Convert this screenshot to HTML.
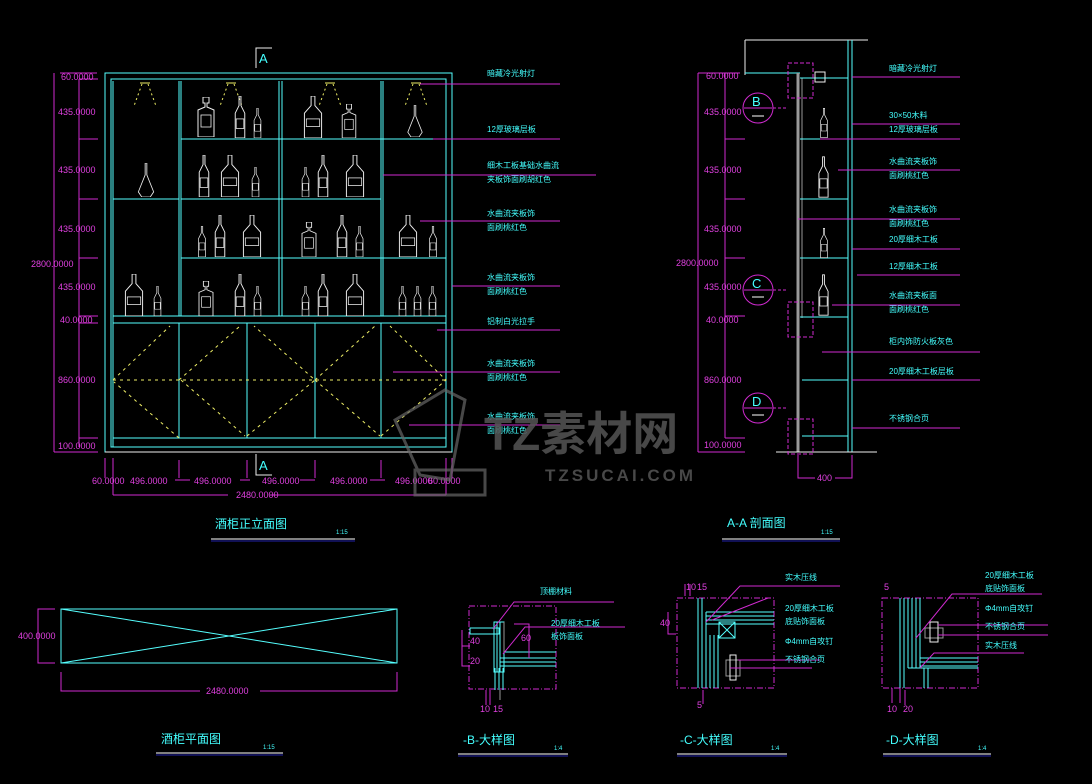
<!DOCTYPE html>
<html><head><meta charset="utf-8"><style>
html,body{margin:0;padding:0;background:#000;}
svg{display:block;}
text{font-family:"Liberation Sans","Noto Sans CJK SC",sans-serif;}
.c{stroke:#5ff;fill:none;stroke-width:1}
.m{stroke:#d02ad0;fill:none;stroke-width:1}
.w{stroke:#eee;fill:none;stroke-width:1}
.y{stroke:#ee6;fill:none;stroke-width:1;stroke-dasharray:3 4}
.g{stroke:#999;fill:none;stroke-width:1}
.tm{fill:#e040e0;font-size:9px}
.tc{fill:#4ff;font-size:8px}
</style></head><body>
<svg width="1092" height="784" viewBox="0 0 1092 784" xmlns="http://www.w3.org/2000/svg">
<defs>
<symbol id="b1" viewBox="0 0 12 44"><path d="M5 0h2v10l4 8v26H1V18l4-8z" fill="none" stroke="#eee" stroke-width="1"/><rect x="2" y="24" width="8" height="10" fill="none" stroke="#eee" stroke-width=".8"/></symbol>
<symbol id="b2" viewBox="0 0 20 44"><path d="M8 0h4v10l7 8v26H1V18l7-8z" fill="none" stroke="#eee" stroke-width="1"/><rect x="3" y="24" width="14" height="8" fill="none" stroke="#eee" stroke-width=".8"/></symbol>
<symbol id="b3" viewBox="0 0 20 40"><path d="M7 0h6v6h-2v4l7 3v27H2V13l7-3V6H7z" fill="none" stroke="#eee" stroke-width="1"/><rect x="5" y="18" width="10" height="12" fill="none" stroke="#eee" stroke-width=".8"/></symbol>
<symbol id="b4" viewBox="0 0 20 40"><path d="M9 0h2v14l8 20-4 6H5l-4-6 8-20z" fill="none" stroke="#eee" stroke-width="1"/></symbol>
</defs>

<!-- ===== Front elevation ===== -->
<g>
<rect x="105" y="73" width="347" height="379" class="c"/>
<rect x="111" y="79" width="335" height="368" class="c"/>
<line x1="113" y1="81" x2="113" y2="447" class="c"/>
<line x1="179" y1="81" x2="179" y2="316" class="c"/>
<line x1="181" y1="81" x2="181" y2="316" class="c"/>
<line x1="279" y1="81" x2="279" y2="316" class="c"/>
<line x1="282" y1="81" x2="282" y2="316" class="c"/>
<line x1="381" y1="81" x2="381" y2="316" class="c"/>
<line x1="383" y1="81" x2="383" y2="316" class="c"/>
<line x1="181" y1="139" x2="446" y2="139" class="c" stroke-width="2"/>
<line x1="181" y1="199" x2="381" y2="199" class="c" stroke-width="2"/>
<line x1="113" y1="199" x2="179" y2="199" class="c" stroke-width="2"/>
<line x1="181" y1="258" x2="446" y2="258" class="c" stroke-width="2"/>
<line x1="113" y1="316" x2="446" y2="316" class="c"/>
<line x1="113" y1="323" x2="446" y2="323" class="c"/>
<line x1="113" y1="438" x2="446" y2="438" class="c"/>
<line x1="179" y1="323" x2="179" y2="438" class="c"/>
<line x1="247" y1="323" x2="247" y2="438" class="c"/>
<line x1="315" y1="323" x2="315" y2="438" class="c"/>
<line x1="381" y1="323" x2="381" y2="438" class="c"/>
<line x1="105" y1="452" x2="452" y2="452" class="w"/>
<!-- door dashed -->
<path d="M113 380L170 326M179 438L114 382M179 380L240 326M181 380L245 436M247 436L315 380L254 326M315 380L375 326M315 380L380 436M381 436L446 380L390 326" class="y"/>
<line x1="113" y1="380" x2="446" y2="380" class="y" stroke-width="1.5"/>
<!-- lights -->
<g stroke="#ee6" fill="none" stroke-dasharray="2 3">
<path d="M142 84l-8 22M148 84l8 22M228 84l-8 22M234 84l8 22M327 84l-8 22M333 84l8 22M413 84l-8 22M419 84l8 22"/>
</g>
<g stroke="#ee6" fill="none"><path d="M140 83h10M226 83h10M325 83h10M411 83h10"/></g>
<!-- bottles -->
<use href="#b3" x="196" y="97" width="20" height="40"/><use href="#b1" x="234" y="96" width="12" height="42"/><use href="#b1" x="253" y="108" width="9" height="30"/>
<use href="#b2" x="303" y="96" width="20" height="42"/><use href="#b3" x="339" y="104" width="20" height="34"/><use href="#b4" x="405" y="105" width="20" height="32"/>
<use href="#b4" x="136" y="163" width="20" height="34"/>
<use href="#b1" x="198" y="155" width="12" height="42"/><use href="#b2" x="220" y="155" width="20" height="42"/><use href="#b1" x="251" y="167" width="9" height="30"/>
<use href="#b1" x="301" y="167" width="9" height="30"/><use href="#b1" x="317" y="155" width="12" height="42"/><use href="#b2" x="345" y="155" width="20" height="42"/>
<use href="#b1" x="197" y="226" width="10" height="31"/><use href="#b1" x="214" y="215" width="12" height="42"/><use href="#b2" x="242" y="215" width="20" height="42"/>
<use href="#b3" x="299" y="222" width="20" height="35"/><use href="#b1" x="336" y="215" width="12" height="42"/><use href="#b1" x="355" y="226" width="9" height="31"/>
<use href="#b2" x="398" y="215" width="20" height="42"/><use href="#b1" x="428" y="226" width="10" height="31"/>
<use href="#b2" x="124" y="274" width="20" height="42"/><use href="#b1" x="153" y="286" width="9" height="30"/>
<use href="#b3" x="196" y="281" width="20" height="35"/><use href="#b1" x="234" y="274" width="12" height="42"/><use href="#b1" x="253" y="286" width="9" height="30"/>
<use href="#b1" x="301" y="286" width="9" height="30"/><use href="#b1" x="317" y="274" width="12" height="42"/><use href="#b2" x="345" y="274" width="20" height="42"/>
<use href="#b1" x="398" y="286" width="9" height="30"/><use href="#b1" x="413" y="286" width="9" height="30"/><use href="#b1" x="428" y="286" width="9" height="30"/>
<!-- A markers -->
<path d="M256 68V48h16" class="w"/><text x="259" y="63" fill="#4ff" font-size="13">A</text>
<path d="M256 454v21h16" class="w"/><text x="259" y="470" fill="#4ff" font-size="13">A</text>
<!-- left dims -->
<path d="M60 73H97M54 73V452M54 452H98M79 79V447M79 79H98M79 139H98M79 199H98M79 258H98M79 316H98M79 323H98M79 438H98" class="m"/>
<text x="61" y="80" class="tm">60.0000</text>
<text x="58" y="115" class="tm">435.0000</text>
<text x="58" y="173" class="tm">435.0000</text>
<text x="58" y="232" class="tm">435.0000</text>
<text x="31" y="267" class="tm">2800.0000</text>
<text x="58" y="290" class="tm">435.0000</text>
<text x="60" y="323" class="tm">40.0000</text>
<text x="58" y="383" class="tm">860.0000</text>
<text x="58" y="449" class="tm">100.0000</text>
<!-- bottom dims -->
<path d="M105 458V478M113 458V495M179 460V478M247 460V478M315 460V478M381 460V478M452 458V478M446 458V495M113 495H228M270 495H446M175 480H190M240 480H250M300 480H315M370 480H385" class="m"/>
<text x="92" y="484" class="tm">60.0000</text>
<text x="130" y="484" class="tm">496.0000</text>
<text x="194" y="484" class="tm">496.0000</text>
<text x="262" y="484" class="tm">496.0000</text>
<text x="330" y="484" class="tm">496.0000</text>
<text x="395" y="484" class="tm">496.0000</text>
<text x="428" y="484" class="tm">60.0000</text>
<text x="236" y="498" class="tm">2480.0000</text>
<!-- leaders -->
<g class="m"><path d="M420 84H560M433 139H560M383 175H596M420 221H560M452 286H560M437 330H560M393 372H560M409 425H560"/></g>
<g class="tc">
<text x="487" y="76">暗藏冷光射灯</text>
<text x="487" y="132">12厚玻璃层板</text>
<text x="487" y="168">细木工板基础水曲流</text><text x="487" y="182">夹板饰面刷胡红色</text>
<text x="487" y="216">水曲流夹板饰</text><text x="487" y="230">面刷桃红色</text>
<text x="487" y="280">水曲流夹板饰</text><text x="487" y="294">面刷桃红色</text>
<text x="487" y="324">铝制白光拉手</text>
<text x="487" y="366">水曲流夹板饰</text><text x="487" y="380">面刷桃红色</text>
<text x="487" y="419">水曲流夹板饰</text><text x="487" y="433">面刷桃红色</text>
</g>
<text x="215" y="528" fill="#4ff" font-size="12">酒柜正立面图</text>
<text x="336" y="534" fill="#4ff" font-size="6">1:15</text>
<line x1="211" y1="539" x2="355" y2="539" stroke="#fff"/><line x1="211" y1="541" x2="355" y2="541" stroke="#22a"/>
</g>

<!-- ===== Watermark ===== -->
<g fill="#555" opacity="0.85">
<text x="484" y="450" font-size="46" font-weight="bold" font-family="Liberation Sans,Noto Sans CJK SC,sans-serif">TZ素材网</text>
<text x="545" y="481" font-size="17" font-weight="bold" letter-spacing="3">TZSUCAI.COM</text>
</g>
<path d="M395 420l50-30 20 10-15 80-30-5zM415 470h70v25h-70z" stroke="#666" fill="none" stroke-width="3" opacity=".7"/>

<!-- ===== Section A-A ===== -->
<g>
<path d="M745 40H868M745 40V75" class="w"/>
<line x1="745" y1="73" x2="800" y2="73" class="c" stroke-width="2"/>
<line x1="852" y1="40" x2="852" y2="452" class="c"/>
<line x1="848" y1="40" x2="848" y2="452" class="c"/>
<line x1="798" y1="73" x2="798" y2="452" stroke="#999" stroke-width="3"/>
<line x1="802" y1="78" x2="802" y2="318" class="g"/>
<line x1="800" y1="78" x2="848" y2="78" class="c" stroke-width="2"/>
<line x1="800" y1="139" x2="848" y2="139" class="c" stroke-width="2"/>
<line x1="800" y1="199" x2="848" y2="199" class="c" stroke-width="2"/>
<line x1="800" y1="258" x2="848" y2="258" class="c" stroke-width="2"/>
<line x1="800" y1="317" x2="848" y2="317" class="c" stroke-width="2"/>
<line x1="802" y1="380" x2="848" y2="380" class="c" stroke-width="2"/>
<line x1="802" y1="436" x2="848" y2="436" class="c" stroke-width="2"/>
<line x1="776" y1="452" x2="877" y2="452" class="w"/>
<rect x="815" y="72" width="10" height="10" class="w"/>
<use href="#b1" x="820" y="108" width="8" height="30"/><use href="#b1" x="818" y="156" width="11" height="42"/><use href="#b1" x="820" y="228" width="8" height="30"/><use href="#b1" x="818" y="274" width="11" height="42"/>
<rect x="788" y="63" width="25" height="35" class="m" stroke-dasharray="4 2"/>
<rect x="788" y="302" width="25" height="35" class="m" stroke-dasharray="4 2"/>
<rect x="788" y="419" width="25" height="35" class="m" stroke-dasharray="4 2"/>
<circle cx="758" cy="108" r="15" class="m"/><line x1="744" y1="108" x2="772" y2="108" class="m"/><line x1="752" y1="116" x2="764" y2="116" stroke="#fff"/><text x="752" y="106" fill="#4ff" font-size="13">B</text>
<circle cx="758" cy="290" r="15" class="m"/><line x1="744" y1="290" x2="772" y2="290" class="m"/><line x1="752" y1="297" x2="764" y2="297" stroke="#fff"/><text x="752" y="288" fill="#4ff" font-size="13">C</text>
<circle cx="758" cy="408" r="15" class="m"/><line x1="744" y1="408" x2="772" y2="408" class="m"/><line x1="752" y1="415" x2="764" y2="415" stroke="#fff"/><text x="752" y="406" fill="#4ff" font-size="13">D</text>
<path d="M773 108h15M773 290h15M773 408h15" class="m" stroke-dasharray="3 2"/>
<path d="M698 73H740M698 73V452M698 452H745M725 73V438M725 139H745M725 199H745M725 258H745M725 316H745M725 438H745M798 455V478H815M835 478H852V455" class="m"/>
<text x="706" y="79" class="tm">60.0000</text>
<text x="704" y="115" class="tm">435.0000</text>
<text x="704" y="173" class="tm">435.0000</text>
<text x="704" y="232" class="tm">435.0000</text>
<text x="676" y="266" class="tm">2800.0000</text>
<text x="704" y="290" class="tm">435.0000</text>
<text x="706" y="323" class="tm">40.0000</text>
<text x="704" y="383" class="tm">860.0000</text>
<text x="704" y="448" class="tm">100.0000</text>
<text x="817" y="481" class="tm">400</text>
<g class="m"><path d="M852 77H960M852 124H960M820 139H960M838 170H960M798 219H960M852 249H960M857 275H960M832 305H960M822 352H980M852 380H980M852 428H960"/></g>
<g class="tc">
<text x="889" y="71">暗藏冷光射灯</text>
<text x="889" y="118">30×50木料</text><text x="889" y="132">12厚玻璃层板</text>
<text x="889" y="164">水曲流夹板饰</text><text x="889" y="178">面刷桃红色</text>
<text x="889" y="212">水曲流夹板饰</text><text x="889" y="226">面刷桃红色</text><text x="889" y="242">20厚细木工板</text>
<text x="889" y="269">12厚细木工板</text>
<text x="889" y="298">水曲流夹板面</text><text x="889" y="312">面刷桃红色</text>
<text x="889" y="344">柜内饰防火板灰色</text>
<text x="889" y="374">20厚细木工板层板</text>
<text x="889" y="421">不锈钢合页</text>
</g>
<text x="727" y="527" fill="#4ff" font-size="12">A-A 剖面图</text>
<text x="821" y="534" fill="#4ff" font-size="6">1:15</text>
<line x1="722" y1="539" x2="840" y2="539" stroke="#fff"/><line x1="722" y1="541" x2="840" y2="541" stroke="#22a"/>
</g>

<!-- ===== Plan ===== -->
<rect x="61" y="609" width="336" height="54" class="c"/>
<path d="M61 609L397 663M61 663L397 609" class="c"/>
<path d="M55 609H38V663H55M61 672V691H200M260 691H397V672" class="m"/>
<text x="18" y="639" class="tm">400.0000</text>
<text x="206" y="694" class="tm">2480.0000</text>
<text x="161" y="743" fill="#4ff" font-size="12">酒柜平面图</text>
<text x="263" y="749" fill="#4ff" font-size="6">1:15</text>
<line x1="156" y1="753" x2="283" y2="753" stroke="#fff"/><line x1="156" y1="755" x2="283" y2="755" stroke="#22a"/>

<!-- ===== Detail B ===== -->
<g>
<rect x="469" y="606" width="87" height="83" class="m" stroke-dasharray="6 2 1 2"/>
<rect x="470" y="628" width="29" height="6" class="c"/>
<path d="M494 622h10v50h-10zM497 622v50M500 622v50M504 652h52M500 658h56M500 662h56M500 666h56M495 668v22M499 668v22M503 668v22" class="c"/>
<path d="M504 652V622M500 690V700" class="g"/>
<path d="M493 629l21-27h100M503 654l22-27h100M514 624h15v34" class="m"/>
<path d="M462 630v16h8M462 646v20h8M486 690v15M490 690v15" class="m"/>
<text x="470" y="644" class="tm" font-size="8">40</text>
<text x="470" y="664" class="tm" font-size="8">20</text>
<text x="480" y="712" class="tm" font-size="8">10</text><text x="493" y="712" class="tm" font-size="8">15</text>
<text x="521" y="641" class="tm" font-size="8">60</text>
<text x="540" y="594" class="tc">顶棚材料</text>
<text x="551" y="626" class="tc">20厚细木工板</text><text x="551" y="639" class="tc">板饰面板</text>
<text x="463" y="744" fill="#4ff" font-size="12">-B-大样图</text>
<text x="554" y="750" fill="#4ff" font-size="6">1:4</text>
<line x1="458" y1="754" x2="568" y2="754" stroke="#fff"/><line x1="458" y1="756" x2="568" y2="756" stroke="#22a"/>
</g>

<!-- ===== Detail C ===== -->
<g>
<rect x="677" y="598" width="97" height="90" class="m" stroke-dasharray="6 2 1 2"/>
<path d="M698 598v90M702 598v90M706 612v76M710 635v53M714 635v53M718 635v53M706 612h68M706 616h68M706 620h68M706 624h68" class="c"/>
<rect x="719" y="622" width="16" height="16" class="c"/><path d="M719 622l16 16M735 622l-16 16" class="c"/>
<path d="M726 660h14v16h-14z" class="g"/><rect x="730" y="655" width="6" height="25" class="w"/>
<path d="M706 622l34-36h100M712 620l56-22" class="m"/>
<path d="M738 660h82M730 668h82" class="m"/>
<path d="M668 612v22h8M685 596v-12M690 596v-12M703 690v14" class="m"/>
<text x="660" y="626" class="tm" font-size="8">40</text>
<text x="686" y="590" class="tm" font-size="8">10</text><text x="697" y="590" class="tm" font-size="8">15</text>
<text x="697" y="708" class="tm" font-size="8">5</text>
<text x="785" y="580" class="tc">实木压线</text>
<text x="785" y="611" class="tc">20厚细木工板</text><text x="785" y="624" class="tc">底贴饰面板</text>
<text x="785" y="644" class="tc">Φ4mm自攻钉</text>
<text x="785" y="662" class="tc">不锈钢合页</text>
<text x="680" y="744" fill="#4ff" font-size="12">-C-大样图</text>
<text x="771" y="750" fill="#4ff" font-size="6">1:4</text>
<line x1="677" y1="754" x2="787" y2="754" stroke="#fff"/><line x1="677" y1="756" x2="787" y2="756" stroke="#22a"/>
</g>

<!-- ===== Detail D ===== -->
<g>
<rect x="882" y="598" width="96" height="90" class="m" stroke-dasharray="6 2 1 2"/>
<path d="M900 598v90M904 598v90M908 598v70M912 598v70M916 598v70M920 598v70M908 668h70M920 658h58M920 662h58M920 666h58M924 668v20M928 668v20" class="c"/>
<path d="M925 628h18v10h-18z" class="g"/><rect x="930" y="622" width="8" height="20" class="w"/>
<path d="M916 638l36-44h90M920 668l14-15h90M938 625h110M938 635h110" class="m"/>
<path d="M892 688v15M900 688v15M905 690v15" class="m"/>
<text x="884" y="590" class="tm" font-size="8">5</text>
<text x="887" y="712" class="tm" font-size="8">10</text><text x="903" y="712" class="tm" font-size="8">20</text>
<text x="985" y="578" class="tc">20厚细木工板</text><text x="985" y="591" class="tc">底贴饰面板</text>
<text x="985" y="611" class="tc">Φ4mm自攻钉</text>
<text x="985" y="629" class="tc">不锈钢合页</text>
<text x="985" y="648" class="tc">实木压线</text>
<text x="886" y="744" fill="#4ff" font-size="12">-D-大样图</text>
<text x="978" y="750" fill="#4ff" font-size="6">1:4</text>
<line x1="883" y1="754" x2="991" y2="754" stroke="#fff"/><line x1="883" y1="756" x2="991" y2="756" stroke="#22a"/>
</g>
</svg>
</body></html>
